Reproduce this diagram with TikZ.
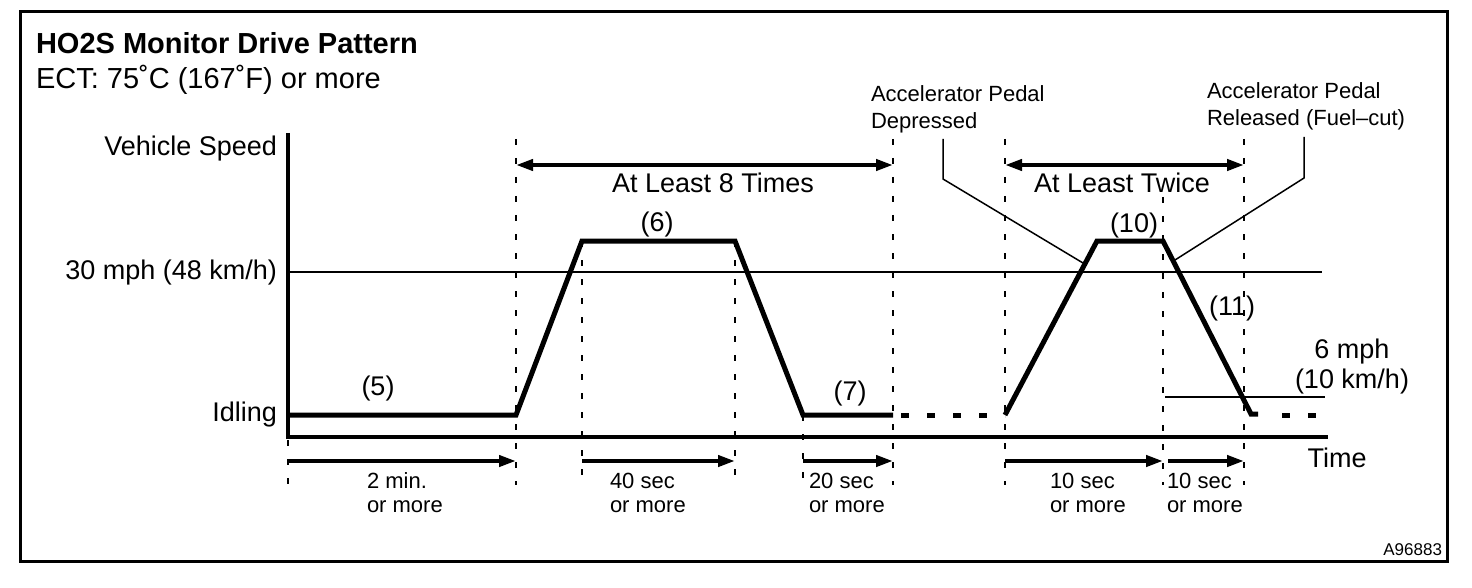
\documentclass[tikz,border=0pt]{standalone}
\usepackage{fontspec}
\setmainfont{Liberation Sans}
\usetikzlibrary{arrows.meta}
\begin{document}
\begin{tikzpicture}[x=1pt,y=-1pt,
  every node/.style={inner sep=0pt, outer sep=0pt},
  big/.style={font=\fontsize{27}{30}\selectfont},
  ttl/.style={font=\fontsize{29}{34}\selectfont\bfseries},
  sub/.style={font=\fontsize{29}{34}\selectfont},
  note/.style={font=\fontsize{22}{27}\selectfont, align=left},
  dur/.style={font=\fontsize{22}{23.5}\selectfont, align=left},
  tag/.style={font=\fontsize{17}{20}\selectfont},
  frame/.style={line width=3pt},
  axis/.style={line width=4pt, line join=miter},
  level/.style={line width=2pt},
  thinlevel/.style={line width=1.5pt},
  profile/.style={line width=5pt, line join=miter},
  pdash/.style={line width=5pt, dash pattern=on 8pt off 18pt},
  guide/.style={line width=2.5pt, dash pattern=on 6pt off 13pt},
  span/.style={line width=4pt, -{Triangle[length=17pt,width=11pt]}},
  bispan/.style={line width=4pt, {Triangle[length=17pt,width=11pt]}-{Triangle[length=17pt,width=11pt]}},
  leader/.style={line width=1.5pt},
]
\useasboundingbox (0,0) rectangle (1472,588);
\draw[frame] (20.5,11.5) rectangle (1447.5,561.5);

% key coordinates
\coordinate (ytop) at (288,133);
\coordinate (org) at (288,437);
\coordinate (xend) at (1328,437);
\coordinate (a0) at (288,415);
\coordinate (a1) at (516,415);
\coordinate (a2) at (582,241);
\coordinate (a3) at (735,241);
\coordinate (a4) at (803,415);
\coordinate (a5) at (893,415);
\coordinate (a6) at (901,415);
\coordinate (b0) at (1005,415);
\coordinate (b1) at (1097,241);
\coordinate (b2) at (1163,241);
\coordinate (b3) at (1251,414);
\coordinate (b4) at (1258,414);
\coordinate (b5) at (1282,415);
\coordinate (b6) at (1322,415);
\coordinate (l30a) at (288,272);
\coordinate (l30b) at (1322,272);
\coordinate (l6a) at (1165,397);
\coordinate (l6b) at (1325,397);

% guide lines
\foreach \x/\t in {288/440,516/139,582/241,735/241,803/415,893/139,1005/139,1163/197,1244/139}
  \draw[guide] (\x,\t) -- (\x,485);

% levels
\draw[level] (l30a) -- (l30b);
\draw[thinlevel] (l6a) -- (l6b);

% axes
\draw[axis] (ytop) -- (org) -- (xend);

% speed profile
\draw[profile] (a0) -- (a1) -- (a2) -- (a3) -- (a4) -- (a5);
\draw[pdash] (a6) -- (b0);
\draw[profile] (b0) -- (b1) -- (b2) -- (b3) -- (b4);
\draw[pdash] (b5) -- (b6);

% span arrows
\coordinate (s1a) at (516,165); \coordinate (s1b) at (893,165);
\coordinate (s2a) at (1005,165); \coordinate (s2b) at (1244,165);
\draw[bispan] (s1a) -- (s1b);
\draw[bispan] (s2a) -- (s2b);

\coordinate (d0) at (288,461); \coordinate (d1) at (516,461);
\coordinate (d2) at (582,461); \coordinate (d3) at (735,461);
\coordinate (d4) at (803,461); \coordinate (d5) at (893,461);
\coordinate (d6) at (1005,461); \coordinate (d7) at (1163,461);
\coordinate (d8) at (1168,461); \coordinate (d9) at (1244,461);
\draw[span] (d0) -- (d1);
\draw[span] (d2) -- (d3);
\draw[span] (d4) -- (d5);
\draw[span] (d6) -- (d7);
\draw[span] (d8) -- (d9);

% texts
\node[ttl, anchor=base west] (title) at (36,54) {HO2S Monitor Drive Pattern};
\node[sub, anchor=base west] (ect) at (36,89) {ECT: 75˚C (167˚F) or more};
\node[big, anchor=base east] (vs) at (277,156) {Vehicle Speed};
\node[big, anchor=base east] (s30) at (277,279) {30 mph (48 km/h)};
\node[big, anchor=base east] (idl) at (277,421) {Idling};
\node[big, anchor=base] (p5) at (378,395) {(5)};
\node[big, anchor=base] (p6) at (657,231) {(6)};
\node[big, anchor=base] (p7) at (850,400) {(7)};
\node[big, anchor=base] (p10) at (1134,233) {(10)};
\node[big, anchor=base] (p11) at (1232,315) {(11)};
\node[big, anchor=base, align=center] (s6) at (1352,388) {6 mph\\(10 km/h)};
\node[big, anchor=base] (time) at (1337,467) {Time};
\node[big, anchor=base] (t8) at (713,193) {At Least 8 Times};
\node[big, anchor=base] (t2) at (1122,193) {At Least Twice};
\node[note, anchor=base west] (dep) at (871,129) {Accelerator Pedal\\Depressed};
\node[note, anchor=base west] (rel) at (1207,126) {Accelerator Pedal\\Released (Fuel–cut)};
\node[dur, anchor=base west] (t1) at (367,512) {2 min.\\or more};
\node[dur, anchor=base west] (t2b) at (610,512) {40 sec\\or more};
\node[dur, anchor=base west] (t3) at (809,512) {20 sec\\or more};
\node[dur, anchor=base west] (t4) at (1050,512) {10 sec\\or more};
\node[dur, anchor=base west] (t5) at (1167,512) {10 sec\\or more};
\node[tag, anchor=base east] (id) at (1442,555) {A96883};

% leaders
\coordinate (q0) at (943,139); \coordinate (q1) at (943,179); \coordinate (q2) at (1083,263);
\coordinate (r0) at (1304,137); \coordinate (r1) at (1304,178); \coordinate (r2) at (1175,260);
\draw[leader] (q0) -- (q1) -- (q2);
\draw[leader] (r0) -- (r1) -- (r2);
\end{tikzpicture}
\end{document}
